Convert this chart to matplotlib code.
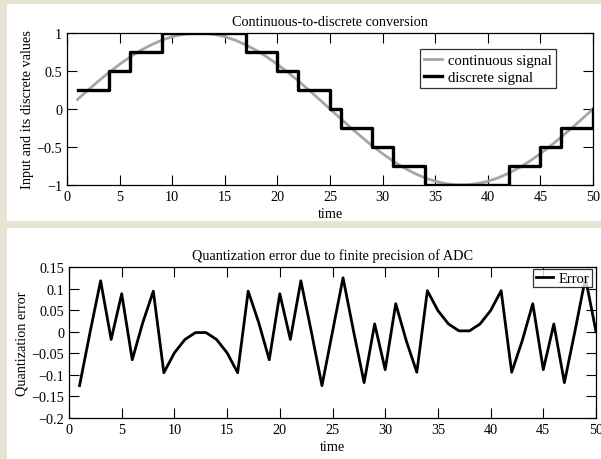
import matplotlib
matplotlib.use("Agg")
import matplotlib.pyplot as plt
from matplotlib.patches import Rectangle

plt.rcParams['font.family'] = ['Liberation Serif', 'DejaVu Serif']
plt.rcParams['mathtext.fontset'] = 'stix'

time = list(range(1, 51))
continuous = [0.125, 0.249, 0.368, 0.482, 0.588, 0.685, 0.771, 0.844, 0.905, 0.951,
              0.982, 0.998, 0.998, 0.982, 0.951, 0.905, 0.844, 0.771, 0.685, 0.588,
              0.482, 0.368, 0.249, 0.125, 0.0, -0.125, -0.249, -0.368, -0.482, -0.588,
              -0.685, -0.771, -0.844, -0.905, -0.951, -0.982, -0.998, -0.998, -0.982, -0.951,
              -0.905, -0.844, -0.771, -0.685, -0.588, -0.482, -0.368, -0.249, -0.125, 0.0]
discrete = [0.25, 0.25, 0.25, 0.5, 0.5, 0.75, 0.75, 0.75, 1, 1,
            1, 1, 1, 1, 1, 1, 0.75, 0.75, 0.75, 0.5,
            0.5, 0.25, 0.25, 0.25, 0, -0.25, -0.25, -0.25, -0.5, -0.5,
            -0.75, -0.75, -0.75, -1, -1, -1, -1, -1, -1, -1,
            -1, -0.75, -0.75, -0.75, -0.5, -0.5, -0.25, -0.25, -0.25, 0]
error = [-0.125, -0.001, 0.118, -0.018, 0.088, -0.065, 0.021, 0.094, -0.095, -0.049,
         -0.018, -0.002, -0.002, -0.018, -0.049, -0.095, 0.094, 0.021, -0.065, 0.088,
         -0.018, 0.118, -0.001, -0.125, 0.0, 0.125, 0.001, -0.118, 0.018, -0.088,
         0.065, -0.021, -0.094, 0.095, 0.049, 0.018, 0.002, 0.002, 0.018, 0.049,
         0.095, -0.094, -0.021, 0.065, -0.088, 0.018, -0.118, 0.001, 0.125, 0.0]

xticks = [0, 5, 10, 15, 20, 25, 30, 35, 40, 45, 50]
yticks_top = [-1, -0.5, 0, 0.5, 1]
ytick_labels_top = ['\u22121', '\u22120.5', '0', '0.5', '1']
yticks_bot = [-0.2, -0.15, -0.1, -0.05, 0, 0.05, 0.1, 0.15]
ytick_labels_bot = ['\u22120.2', '\u22120.15', '\u22120.1', '\u22120.05', '0', '0.05', '0.1', '0.15']

W, H = 601, 460
fig = plt.figure(figsize=(W / 100, H / 100), dpi=100)
fig.patch.set_facecolor('#e7e4d4')

# white panels
fig.patches.append(Rectangle((7 / W, (H - 222) / H), 1 - 7 / W, (222 - 5) / H,
                             transform=fig.transFigure, facecolor='white', edgecolor='none', zorder=-10))
fig.patches.append(Rectangle((7 / W, 0), 1 - 7 / W, (H - 229) / H,
                             transform=fig.transFigure, facecolor='white', edgecolor='none', zorder=-10))

fs = 10.3

def style(ax):
    ax.tick_params(direction='in', length=7.5, width=0.8, top=True, right=True,
                   labelsize=fs, pad=3.5)
    for s in ax.spines.values():
        s.set_linewidth(0.9)

ax1 = fig.add_axes([67 / W, (H - 186) / H, (593 - 67) / W, (186 - 34) / H])
ax1.plot(time, continuous, color='#a6a6a6', lw=2.0, label='continuous signal')
ax1.step(time, discrete, where='post', color='black', lw=2.4, label='discrete signal')
ax1.set_xlim(0, 50)
ax1.set_ylim(-1, 1)
ax1.set_xticks(xticks)
ax1.set_yticks(yticks_top)
ax1.set_yticklabels(ytick_labels_top)
style(ax1)
ax1.set_title('Continuous-to-discrete conversion', fontsize=fs, pad=6)
ax1.set_xlabel('time', fontsize=fs, labelpad=3)
ax1.set_ylabel('Input and its discrete values', fontsize=fs, labelpad=2)
leg1 = ax1.legend(loc='upper right', bbox_to_anchor=(0.93, 0.895), fontsize=fs + 0.3,
                  frameon=True, fancybox=False, edgecolor='black', handlelength=1.2,
                  handletextpad=0.4, borderpad=0.3, labelspacing=0.25, borderaxespad=0)
leg1.get_frame().set_linewidth(0.9)

ax2 = fig.add_axes([69 / W, (H - 419) / H, (596 - 69) / W, (419 - 268) / H])
ax2.plot(time, error, color='black', lw=2.0, label='Error', solid_joinstyle='round')
ax2.set_xlim(0, 50)
ax2.set_ylim(-0.2, 0.15)
ax2.set_xticks(xticks)
ax2.set_yticks(yticks_bot)
ax2.set_yticklabels(ytick_labels_bot)
style(ax2)
ax2.set_title('Quantization error due to finite precision of ADC', fontsize=fs, pad=6)
ax2.set_xlabel('time', fontsize=fs, labelpad=3)
ax2.set_ylabel('Quantization error', fontsize=fs, labelpad=2)
leg2 = ax2.legend(loc='upper right', bbox_to_anchor=(0.992, 0.985), fontsize=fs + 0.2,
                  frameon=True, fancybox=False, edgecolor='black', handlelength=1.2,
                  handletextpad=0.4, borderpad=0.15, borderaxespad=0)
leg2.get_frame().set_linewidth(0.9)

fig.savefig('out.png', dpi=100, facecolor=fig.get_facecolor())
